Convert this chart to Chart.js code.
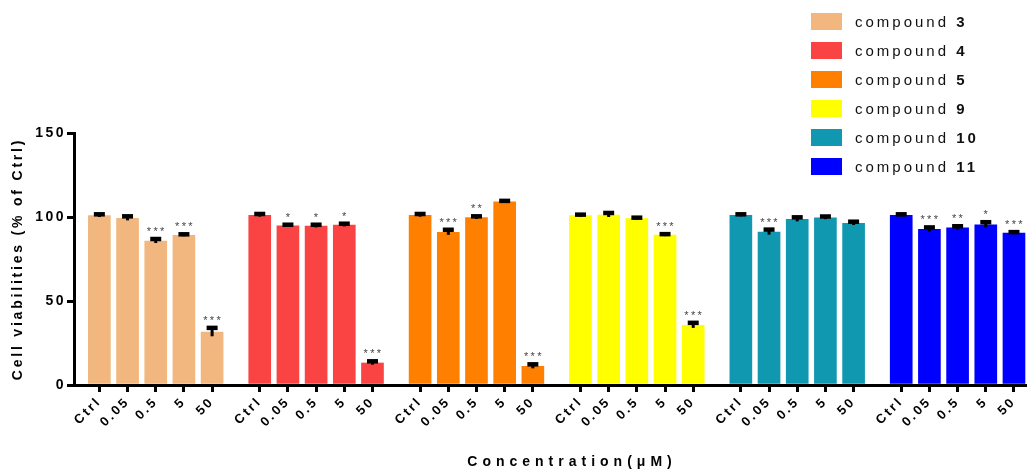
<!DOCTYPE html>
<html>
<head>
<meta charset="utf-8">
<script src="https://cdn.jsdelivr.net/npm/chart.js@4/dist/chart.umd.min.js"></script>
<style>
  html, body { margin: 0; padding: 0; background: #fff; }
  #wrap { width: 1027px; height: 471px; }
</style>
</head>
<body>
<div id="wrap"><canvas id="chart" width="1027" height="471"></canvas></div>
<script>
// concentrations (µM) inside each compound group
const doses = ['Ctrl', '0.05', '0.5', '5', '50'];
const compounds = ['3', '4', '5', '9', '10', '11'];

// cell viability, % of Ctrl
const viability3 = [100.8, 99.2, 85.7, 89.1, 31.5];
const viability4 = [101.0, 94.8, 94.6, 95.2, 13.1];
const viability5 = [101.0, 90.9, 99.6, 109.0, 11.1];
const viability9 = [100.8, 101.2, 99.0, 89.2, 35.5];
const viability10 = [101.0, 91.0, 98.6, 99.5, 96.2];
const viability11 = [101.0, 92.6, 93.5, 95.4, 90.4];

// SD
const sd3 = [0.8, 1.2, 1.2, 0.6, 2.5];
const sd4 = [0.8, 0.6, 0.8, 0.8, 1.0];
const sd5 = [0.8, 1.5, 0.8, 0.6, 1.2];
const sd9 = [0.6, 1.2, 0.6, 0.6, 1.5];
const sd10 = [0.6, 1.5, 1.2, 0.8, 1.0];
const sd11 = [0.6, 1.2, 1.0, 1.5, 0.6];

// significance vs Ctrl
const stars3 = ['', '', '***', '***', '***'];
const stars4 = ['', '*', '*', '*', '***'];
const stars5 = ['', '***', '**', '', '***'];
const stars9 = ['', '', '', '***', '***'];
const stars10 = ['', '***', '', '', ''];
const stars11 = ['', '***', '**', '*', '***'];

const yTicks = [0, 50, 100, 150];

const viability = [viability3, viability4, viability5, viability9, viability10, viability11];
const errors = [sd3, sd4, sd5, sd9, sd10, sd11];
const stars = [stars3, stars4, stars5, stars9, stars10, stars11];
const colors = ['#F1B77E', '#FA4343', '#FF8000', '#FFFF00', '#1198B1', '#0000FF'];

// groups are separated by a gap a bit smaller than two bar slots
const GROUP_SPAN = 5.69;
const positions = [];
compounds.forEach((c, g) => doses.forEach((d, i) => positions.push(g * GROUP_SPAN + i)));

const FONT = "'Liberation Sans', Arial, sans-serif";

const datasets = compounds.map((c, g) => ({
  label: 'compound ' + c,
  data: viability[g].map((v, i) => ({ x: g * GROUP_SPAN + i, y: v })),
  backgroundColor: colors[g],
  borderWidth: 0,
  barThickness: 22,
  grouped: false
}));

const extras = {
  id: 'extras',
  beforeUpdate(chart) { chart.ctx.letterSpacing = '2.5px'; },
  beforeDraw(chart) { chart.ctx.letterSpacing = '2.5px'; },
  afterDatasetsDraw(chart) {
    const ctx = chart.ctx;
    const y = chart.scales.y;
    chart.data.datasets.forEach((ds, d) => {
      chart.getDatasetMeta(d).data.forEach((bar, i) => {
        const v = ds.data[i].y, e = errors[d][i];
        const top = y.getPixelForValue(v + e);
        const bottom = y.getPixelForValue(v - e);
        ctx.save();
        ctx.strokeStyle = '#000';
        ctx.lineWidth = 3;
        ctx.beginPath();
        ctx.moveTo(bar.x, bottom);
        ctx.lineTo(bar.x, top);
        ctx.stroke();
        ctx.lineWidth = 4.5;
        ctx.beginPath();
        ctx.moveTo(bar.x - 5.5, top);
        ctx.lineTo(bar.x + 5.5, top);
        ctx.stroke();
        if (stars[d][i]) {
          ctx.fillStyle = '#444';
          ctx.font = '11px ' + FONT;
          ctx.letterSpacing = '2.3px';
          ctx.textAlign = 'center';
          ctx.textBaseline = 'alphabetic';
          ctx.fillText(stars[d][i], bar.x + 1, top - 4);
        }
        ctx.restore();
      });
    });
  },
  afterDraw(chart) {
    const ctx = chart.ctx;
    const area = chart.chartArea;
    ctx.save();
    ctx.fillStyle = '#000';
    ctx.textBaseline = 'middle';

    // legend, top right
    chart.data.datasets.forEach((ds, k) => {
      const cy = 21.5 + k * 29;
      ctx.fillStyle = ds.backgroundColor;
      ctx.fillRect(811, cy - 8.5, 31, 17);
      ctx.fillStyle = '#111';
      ctx.textAlign = 'left';
      ctx.letterSpacing = '3px';
      ctx.font = '15px ' + FONT;
      ctx.fillText('compound ', 855, cy + 1);
      const w = ctx.measureText('compound ').width;
      ctx.font = 'bold 15px ' + FONT;
      ctx.fillText(compounds[k], 855 + w, cy + 1);
    });

    // axis titles
    ctx.fillStyle = '#000';
    ctx.textAlign = 'center';
    ctx.font = 'bold 14px ' + FONT;
    ctx.letterSpacing = '5px';
    ctx.fillText('Concentration(\u03BCM)', 572, 462);

    ctx.translate(18.5, (area.top + area.bottom) / 2);
    ctx.rotate(-Math.PI / 2);
    ctx.letterSpacing = '2.8px';
    ctx.fillText('Cell viabilities (% of Ctrl)', 0, 0);
    ctx.restore();
  }
};

new Chart(document.getElementById('chart').getContext('2d'), {
  type: 'bar',
  data: { datasets },
  options: {
    responsive: false,
    animation: false,
    devicePixelRatio: 1,
    layout: { padding: { top: 133, right: 0, left: 0, bottom: 0 } },
    plugins: { legend: { display: false }, tooltip: { enabled: false } },
    scales: {
      x: {
        type: 'linear',
        offset: false,
        min: -0.9,
        max: (compounds.length - 1) * GROUP_SPAN + doses.length - 1 + 0.46,
        afterBuildTicks: (scale) => { scale.ticks = positions.map(v => ({ value: v })); },
        afterFit: (scale) => { scale.height = 86; },
        grid: { offset: false, drawOnChartArea: false, drawTicks: true, tickLength: 7, lineWidth: 3, color: '#000' },
        border: { width: 3, color: '#000' },
        ticks: {
          autoSkip: false,
          minRotation: 45,
          maxRotation: 45,
          padding: 2,
          color: '#000',
          font: { family: FONT, size: 13, weight: 'bold' },
          callback: (value, index) => doses[index % doses.length]
        }
      },
      y: {
        min: 0,
        max: 150,
        afterBuildTicks: (scale) => { scale.ticks = yTicks.map(v => ({ value: v })); },
        afterFit: (scale) => { scale.width = 74; },
        grid: { drawOnChartArea: false, drawTicks: true, tickLength: 7, lineWidth: 3, color: '#000' },
        border: { width: 3, color: '#000' },
        ticks: {
          padding: 1,
          color: '#000',
          font: { family: FONT, size: 14, weight: 'bold' }
        }
      }
    }
  },
  plugins: [extras]
});
</script>
</body>
</html>
